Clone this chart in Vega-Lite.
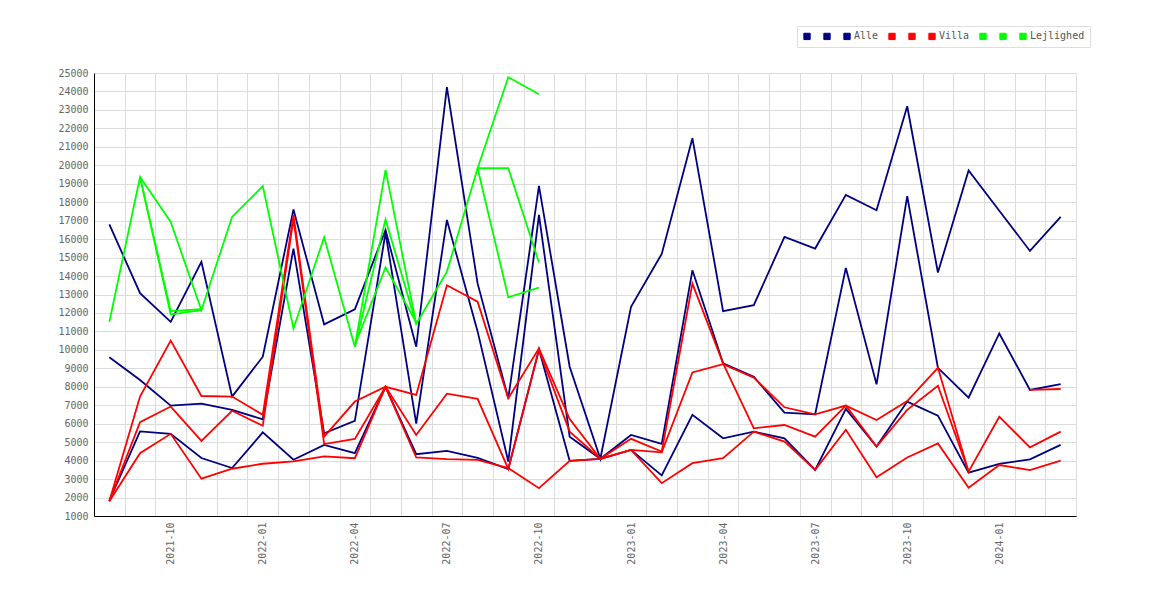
{
  "$schema": "https://vega.github.io/schema/vega-lite/v6.json",
  "width": 982,
  "height": 443,
  "autosize": {"type": "none"},
  "padding": {"left": 94, "top": 73, "right": 94, "bottom": 84},
  "config": {
    "view": {"stroke": null},
    "font": "DejaVu Sans Mono"
  },
  "data": {
    "values": [
      {"month": "2021-08", "series": "Alle 1", "value": 16800},
      {"month": "2021-09", "series": "Alle 1", "value": 13070},
      {"month": "2021-10", "series": "Alle 1", "value": 11520},
      {"month": "2021-11", "series": "Alle 1", "value": 14770},
      {"month": "2021-12", "series": "Alle 1", "value": 7470},
      {"month": "2022-01", "series": "Alle 1", "value": 9630},
      {"month": "2022-02", "series": "Alle 1", "value": 17610},
      {"month": "2022-03", "series": "Alle 1", "value": 11380},
      {"month": "2022-04", "series": "Alle 1", "value": 12200},
      {"month": "2022-05", "series": "Alle 1", "value": 16500},
      {"month": "2022-06", "series": "Alle 1", "value": 10170},
      {"month": "2022-07", "series": "Alle 1", "value": 24230},
      {"month": "2022-08", "series": "Alle 1", "value": 13600},
      {"month": "2022-09", "series": "Alle 1", "value": 7380},
      {"month": "2022-10", "series": "Alle 1", "value": 18880},
      {"month": "2022-11", "series": "Alle 1", "value": 9090},
      {"month": "2022-12", "series": "Alle 1", "value": 4100},
      {"month": "2023-01", "series": "Alle 1", "value": 12330},
      {"month": "2023-02", "series": "Alle 1", "value": 15200},
      {"month": "2023-03", "series": "Alle 1", "value": 21470},
      {"month": "2023-04", "series": "Alle 1", "value": 12100},
      {"month": "2023-05", "series": "Alle 1", "value": 12420},
      {"month": "2023-06", "series": "Alle 1", "value": 16120},
      {"month": "2023-07", "series": "Alle 1", "value": 15490},
      {"month": "2023-08", "series": "Alle 1", "value": 18400},
      {"month": "2023-09", "series": "Alle 1", "value": 17560},
      {"month": "2023-10", "series": "Alle 1", "value": 23200},
      {"month": "2023-11", "series": "Alle 1", "value": 14190},
      {"month": "2023-12", "series": "Alle 1", "value": 19720},
      {"month": "2024-01", "series": "Alle 1", "value": 17540},
      {"month": "2024-02", "series": "Alle 1", "value": 15360},
      {"month": "2024-03", "series": "Alle 1", "value": 17200},

      {"month": "2021-08", "series": "Alle 2", "value": 9600},
      {"month": "2021-09", "series": "Alle 2", "value": 8370},
      {"month": "2021-10", "series": "Alle 2", "value": 6980},
      {"month": "2021-11", "series": "Alle 2", "value": 7090},
      {"month": "2021-12", "series": "Alle 2", "value": 6750},
      {"month": "2022-01", "series": "Alle 2", "value": 6240},
      {"month": "2022-02", "series": "Alle 2", "value": 15490},
      {"month": "2022-03", "series": "Alle 2", "value": 5480},
      {"month": "2022-04", "series": "Alle 2", "value": 6150},
      {"month": "2022-05", "series": "Alle 2", "value": 16350},
      {"month": "2022-06", "series": "Alle 2", "value": 6000},
      {"month": "2022-07", "series": "Alle 2", "value": 17040},
      {"month": "2022-08", "series": "Alle 2", "value": 11000},
      {"month": "2022-09", "series": "Alle 2", "value": 3950},
      {"month": "2022-10", "series": "Alle 2", "value": 17310},
      {"month": "2022-11", "series": "Alle 2", "value": 5300},
      {"month": "2022-12", "series": "Alle 2", "value": 4100},
      {"month": "2023-01", "series": "Alle 2", "value": 5390},
      {"month": "2023-02", "series": "Alle 2", "value": 4910},
      {"month": "2023-03", "series": "Alle 2", "value": 14310},
      {"month": "2023-04", "series": "Alle 2", "value": 9270},
      {"month": "2023-05", "series": "Alle 2", "value": 8550},
      {"month": "2023-06", "series": "Alle 2", "value": 6600},
      {"month": "2023-07", "series": "Alle 2", "value": 6510},
      {"month": "2023-08", "series": "Alle 2", "value": 14440},
      {"month": "2023-09", "series": "Alle 2", "value": 8130},
      {"month": "2023-10", "series": "Alle 2", "value": 18330},
      {"month": "2023-11", "series": "Alle 2", "value": 9030},
      {"month": "2023-12", "series": "Alle 2", "value": 7410},
      {"month": "2024-01", "series": "Alle 2", "value": 10890},
      {"month": "2024-02", "series": "Alle 2", "value": 7830},
      {"month": "2024-03", "series": "Alle 2", "value": 8150},

      {"month": "2021-08", "series": "Alle", "value": 1830},
      {"month": "2021-09", "series": "Alle", "value": 5580},
      {"month": "2021-10", "series": "Alle", "value": 5450},
      {"month": "2021-11", "series": "Alle", "value": 4140},
      {"month": "2021-12", "series": "Alle", "value": 3600},
      {"month": "2022-01", "series": "Alle", "value": 5530},
      {"month": "2022-02", "series": "Alle", "value": 4050},
      {"month": "2022-03", "series": "Alle", "value": 4850},
      {"month": "2022-04", "series": "Alle", "value": 4400},
      {"month": "2022-05", "series": "Alle", "value": 8000},
      {"month": "2022-06", "series": "Alle", "value": 4350},
      {"month": "2022-07", "series": "Alle", "value": 4530},
      {"month": "2022-08", "series": "Alle", "value": 4150},
      {"month": "2022-09", "series": "Alle", "value": 3540},
      {"month": "2022-10", "series": "Alle", "value": 10030},
      {"month": "2022-11", "series": "Alle", "value": 3990},
      {"month": "2022-12", "series": "Alle", "value": 4100},
      {"month": "2023-01", "series": "Alle", "value": 4580},
      {"month": "2023-02", "series": "Alle", "value": 3200},
      {"month": "2023-03", "series": "Alle", "value": 6480},
      {"month": "2023-04", "series": "Alle", "value": 5210},
      {"month": "2023-05", "series": "Alle", "value": 5570},
      {"month": "2023-06", "series": "Alle", "value": 5210},
      {"month": "2023-07", "series": "Alle", "value": 3500},
      {"month": "2023-08", "series": "Alle", "value": 6800},
      {"month": "2023-09", "series": "Alle", "value": 4760},
      {"month": "2023-10", "series": "Alle", "value": 7200},
      {"month": "2023-11", "series": "Alle", "value": 6440},
      {"month": "2023-12", "series": "Alle", "value": 3350},
      {"month": "2024-01", "series": "Alle", "value": 3820},
      {"month": "2024-02", "series": "Alle", "value": 4070},
      {"month": "2024-03", "series": "Alle", "value": 4850},

      {"month": "2021-08", "series": "Villa 1", "seg": "a", "value": 1800},
      {"month": "2021-09", "series": "Villa 1", "seg": "a", "value": 7470},
      {"month": "2021-10", "series": "Villa 1", "seg": "a", "value": 10500},
      {"month": "2021-11", "series": "Villa 1", "seg": "a", "value": 7500},
      {"month": "2021-12", "series": "Villa 1", "seg": "a", "value": 7470},
      {"month": "2022-01", "series": "Villa 1", "seg": "a", "value": 6480},
      {"month": "2022-02", "series": "Villa 1", "seg": "a", "value": 17300},
      {"month": "2022-03", "series": "Villa 1", "seg": "a", "value": 5300},
      {"month": "2022-04", "series": "Villa 1", "seg": "a", "value": 7200},
      {"month": "2022-05", "series": "Villa 1", "seg": "a", "value": 8000},
      {"month": "2022-06", "series": "Villa 1", "seg": "a", "value": 7560},
      {"month": "2022-07", "series": "Villa 1", "seg": "a", "value": 13500},
      {"month": "2022-08", "series": "Villa 1", "seg": "a", "value": 12610},
      {"month": "2022-09", "series": "Villa 1", "seg": "a", "value": 7380},
      {"month": "2022-10", "series": "Villa 1", "seg": "a", "value": 10080},
      {"month": "2022-11", "series": "Villa 1", "seg": "a", "value": 6250},
      {"month": "2022-12", "series": "Villa 1", "seg": "a", "value": 4100},
      {"month": "2023-01", "series": "Villa 1", "seg": "a", "value": 5180},
      {"month": "2023-02", "series": "Villa 1", "seg": "a", "value": 4490},
      {"month": "2023-03", "series": "Villa 1", "seg": "a", "value": 13590},
      {"month": "2023-04", "series": "Villa 1", "seg": "a", "value": 9270},
      {"month": "2023-05", "series": "Villa 1", "seg": "a", "value": 5750},
      {"month": "2023-06", "series": "Villa 1", "seg": "a", "value": 5930},
      {"month": "2023-07", "series": "Villa 1", "seg": "a", "value": 5300},
      {"month": "2023-08", "series": "Villa 1", "seg": "a", "value": 6980},
      {"month": "2023-09", "series": "Villa 1", "seg": "a", "value": 6200},
      {"month": "2023-10", "series": "Villa 1", "seg": "a", "value": 7230},
      {"month": "2023-11", "series": "Villa 1", "seg": "a", "value": 9030},
      {"month": "2023-12", "series": "Villa 1", "seg": "a", "value": 3400},
      {"month": "2024-02", "series": "Villa 1", "seg": "b", "value": 7830},
      {"month": "2024-03", "series": "Villa 1", "seg": "b", "value": 7880},

      {"month": "2021-08", "series": "Villa 2", "value": 1800},
      {"month": "2021-09", "series": "Villa 2", "value": 6080},
      {"month": "2021-10", "series": "Villa 2", "value": 6930},
      {"month": "2021-11", "series": "Villa 2", "value": 5070},
      {"month": "2021-12", "series": "Villa 2", "value": 6700},
      {"month": "2022-01", "series": "Villa 2", "value": 5890},
      {"month": "2022-02", "series": "Villa 2", "value": 17100},
      {"month": "2022-03", "series": "Villa 2", "value": 4900},
      {"month": "2022-04", "series": "Villa 2", "value": 5180},
      {"month": "2022-05", "series": "Villa 2", "value": 8000},
      {"month": "2022-06", "series": "Villa 2", "value": 5390},
      {"month": "2022-07", "series": "Villa 2", "value": 7630},
      {"month": "2022-08", "series": "Villa 2", "value": 7350},
      {"month": "2022-09", "series": "Villa 2", "value": 3550},
      {"month": "2022-10", "series": "Villa 2", "value": 10000},
      {"month": "2022-11", "series": "Villa 2", "value": 5570},
      {"month": "2022-12", "series": "Villa 2", "value": 4100},
      {"month": "2023-01", "series": "Villa 2", "value": 4580},
      {"month": "2023-02", "series": "Villa 2", "value": 4450},
      {"month": "2023-03", "series": "Villa 2", "value": 8780},
      {"month": "2023-04", "series": "Villa 2", "value": 9230},
      {"month": "2023-05", "series": "Villa 2", "value": 8500},
      {"month": "2023-06", "series": "Villa 2", "value": 6890},
      {"month": "2023-07", "series": "Villa 2", "value": 6510},
      {"month": "2023-08", "series": "Villa 2", "value": 6980},
      {"month": "2023-09", "series": "Villa 2", "value": 4760},
      {"month": "2023-10", "series": "Villa 2", "value": 6750},
      {"month": "2023-11", "series": "Villa 2", "value": 8060},
      {"month": "2023-12", "series": "Villa 2", "value": 3400},
      {"month": "2024-01", "series": "Villa 2", "value": 6380},
      {"month": "2024-02", "series": "Villa 2", "value": 4720},
      {"month": "2024-03", "series": "Villa 2", "value": 5570},

      {"month": "2021-08", "series": "Villa", "value": 1800},
      {"month": "2021-09", "series": "Villa", "value": 4400},
      {"month": "2021-10", "series": "Villa", "value": 5450},
      {"month": "2021-11", "series": "Villa", "value": 3020},
      {"month": "2021-12", "series": "Villa", "value": 3560},
      {"month": "2022-01", "series": "Villa", "value": 3830},
      {"month": "2022-02", "series": "Villa", "value": 3960},
      {"month": "2022-03", "series": "Villa", "value": 4230},
      {"month": "2022-04", "series": "Villa", "value": 4130},
      {"month": "2022-05", "series": "Villa", "value": 8000},
      {"month": "2022-06", "series": "Villa", "value": 4170},
      {"month": "2022-07", "series": "Villa", "value": 4080},
      {"month": "2022-08", "series": "Villa", "value": 4040},
      {"month": "2022-09", "series": "Villa", "value": 3600},
      {"month": "2022-10", "series": "Villa", "value": 2510},
      {"month": "2022-11", "series": "Villa", "value": 3990},
      {"month": "2022-12", "series": "Villa", "value": 4100},
      {"month": "2023-01", "series": "Villa", "value": 4580},
      {"month": "2023-02", "series": "Villa", "value": 2780},
      {"month": "2023-03", "series": "Villa", "value": 3860},
      {"month": "2023-04", "series": "Villa", "value": 4130},
      {"month": "2023-05", "series": "Villa", "value": 5570},
      {"month": "2023-06", "series": "Villa", "value": 5030},
      {"month": "2023-07", "series": "Villa", "value": 3500},
      {"month": "2023-08", "series": "Villa", "value": 5670},
      {"month": "2023-09", "series": "Villa", "value": 3100},
      {"month": "2023-10", "series": "Villa", "value": 4170},
      {"month": "2023-11", "series": "Villa", "value": 4930},
      {"month": "2023-12", "series": "Villa", "value": 2530},
      {"month": "2024-01", "series": "Villa", "value": 3760},
      {"month": "2024-02", "series": "Villa", "value": 3490},
      {"month": "2024-03", "series": "Villa", "value": 4000},

      {"month": "2021-08", "series": "Lejlighed 1", "value": 11520},
      {"month": "2021-09", "series": "Lejlighed 1", "value": 19360},
      {"month": "2021-10", "series": "Lejlighed 1", "value": 16930},
      {"month": "2021-11", "series": "Lejlighed 1", "value": 12150},
      {"month": "2021-12", "series": "Lejlighed 1", "value": 17200},
      {"month": "2022-01", "series": "Lejlighed 1", "value": 18870},
      {"month": "2022-02", "series": "Lejlighed 1", "value": 11160},
      {"month": "2022-03", "series": "Lejlighed 1", "value": 16100},
      {"month": "2022-04", "series": "Lejlighed 1", "value": 10170},
      {"month": "2022-05", "series": "Lejlighed 1", "value": 19750},
      {"month": "2022-06", "series": "Lejlighed 1", "value": 11400},
      {"month": "2022-07", "series": "Lejlighed 1", "value": 14240},
      {"month": "2022-08", "series": "Lejlighed 1", "value": 19840},
      {"month": "2022-09", "series": "Lejlighed 1", "value": 24770},
      {"month": "2022-10", "series": "Lejlighed 1", "value": 23850},

      {"month": "2021-09", "series": "Lejlighed 2", "seg": "a", "value": 19360},
      {"month": "2021-10", "series": "Lejlighed 2", "seg": "a", "value": 12100},
      {"month": "2021-11", "series": "Lejlighed 2", "seg": "a", "value": 12200},
      {"month": "2022-04", "series": "Lejlighed 2", "seg": "b", "value": 10170},
      {"month": "2022-05", "series": "Lejlighed 2", "seg": "b", "value": 17070},
      {"month": "2022-06", "series": "Lejlighed 2", "seg": "b", "value": 11400},
      {"month": "2022-08", "series": "Lejlighed 2", "seg": "c", "value": 19840},
      {"month": "2022-09", "series": "Lejlighed 2", "seg": "c", "value": 19840},
      {"month": "2022-10", "series": "Lejlighed 2", "seg": "c", "value": 14730},

      {"month": "2021-09", "series": "Lejlighed", "seg": "a", "value": 19360},
      {"month": "2021-10", "series": "Lejlighed", "seg": "a", "value": 11920},
      {"month": "2021-11", "series": "Lejlighed", "seg": "a", "value": 12150},
      {"month": "2022-04", "series": "Lejlighed", "seg": "b", "value": 10250},
      {"month": "2022-05", "series": "Lejlighed", "seg": "b", "value": 14470},
      {"month": "2022-06", "series": "Lejlighed", "seg": "b", "value": 11500},
      {"month": "2022-08", "series": "Lejlighed", "seg": "c", "value": 19840},
      {"month": "2022-09", "series": "Lejlighed", "seg": "c", "value": 12850},
      {"month": "2022-10", "series": "Lejlighed", "seg": "c", "value": 13370}
    ]
  },
  "mark": {"type": "line", "strokeWidth": 1.8},
  "encoding": {
    "x": {
      "field": "month",
      "type": "ordinal",
      "bandPosition": 0.5,
      "scale": {"type": "band", "paddingInner": 0, "paddingOuter": 0},
      "axis": {
        "title": null,
        "labelAngle": -90,
        "tickBand": "extent",
        "ticks": false,
        "grid": true,
        "gridColor": "#dcdcdc",
        "domainColor": "#000000",
        "labelExpr": "indexof(['01','04','07','10'], slice(datum.label, 5)) >= 0 ? datum.label : ''",
        "labelFont": "DejaVu Sans Mono",
        "labelFontSize": 10,
        "labelColor": "#666666",
        "labelPadding": 6,
        "labelOverlap": false
      }
    },
    "y": {
      "field": "value",
      "type": "quantitative",
      "scale": {"domain": [1000, 25000], "nice": false, "zero": false},
      "axis": {
        "title": null,
        "values": [1000, 2000, 3000, 4000, 5000, 6000, 7000, 8000, 9000, 10000, 11000, 12000, 13000, 14000, 15000, 16000, 17000, 18000, 19000, 20000, 21000, 22000, 23000, 24000, 25000],
        "format": "d",
        "ticks": false,
        "grid": true,
        "gridColor": "#dcdcdc",
        "domainColor": "#000000",
        "labelFont": "DejaVu Sans Mono",
        "labelFontSize": 10,
        "labelColor": "#666666",
        "labelPadding": 6
      }
    },
    "color": {
      "field": "series",
      "type": "nominal",
      "scale": {
        "domain": ["Alle 1", "Alle 2", "Alle", "Villa 1", "Villa 2", "Villa", "Lejlighed 1", "Lejlighed 2", "Lejlighed"],
        "range": ["#000080", "#000080", "#000080", "#ff0000", "#ff0000", "#ff0000", "#00ff00", "#00ff00", "#00ff00"]
      },
      "legend": {
        "title": null,
        "orient": "none",
        "legendX": 703,
        "legendY": -47,
        "direction": "horizontal",
        "columns": 9,
        "symbolType": "square",
        "symbolSize": 40,
        "symbolStrokeWidth": 1,
        "labelFont": "DejaVu Sans Mono",
        "labelFontSize": 10,
        "labelColor": "#555555",
        "labelOffset": 2,
        "columnPadding": 7,
        "padding": 5,
        "strokeColor": "#dddddd",
        "fillColor": "#ffffff",
        "labelExpr": "indexof(['Alle','Villa','Lejlighed'], datum.label) >= 0 ? datum.label : ' '",
        "encode": {
          "symbols": {
            "update": {
              "fill": {"scale": "color", "field": "value"},
              "fillOpacity": {"value": 1},
              "stroke": {"value": "#555555"}
            }
          }
        }
      }
    },
    "detail": {"field": "seg", "type": "nominal"}
  }
}
